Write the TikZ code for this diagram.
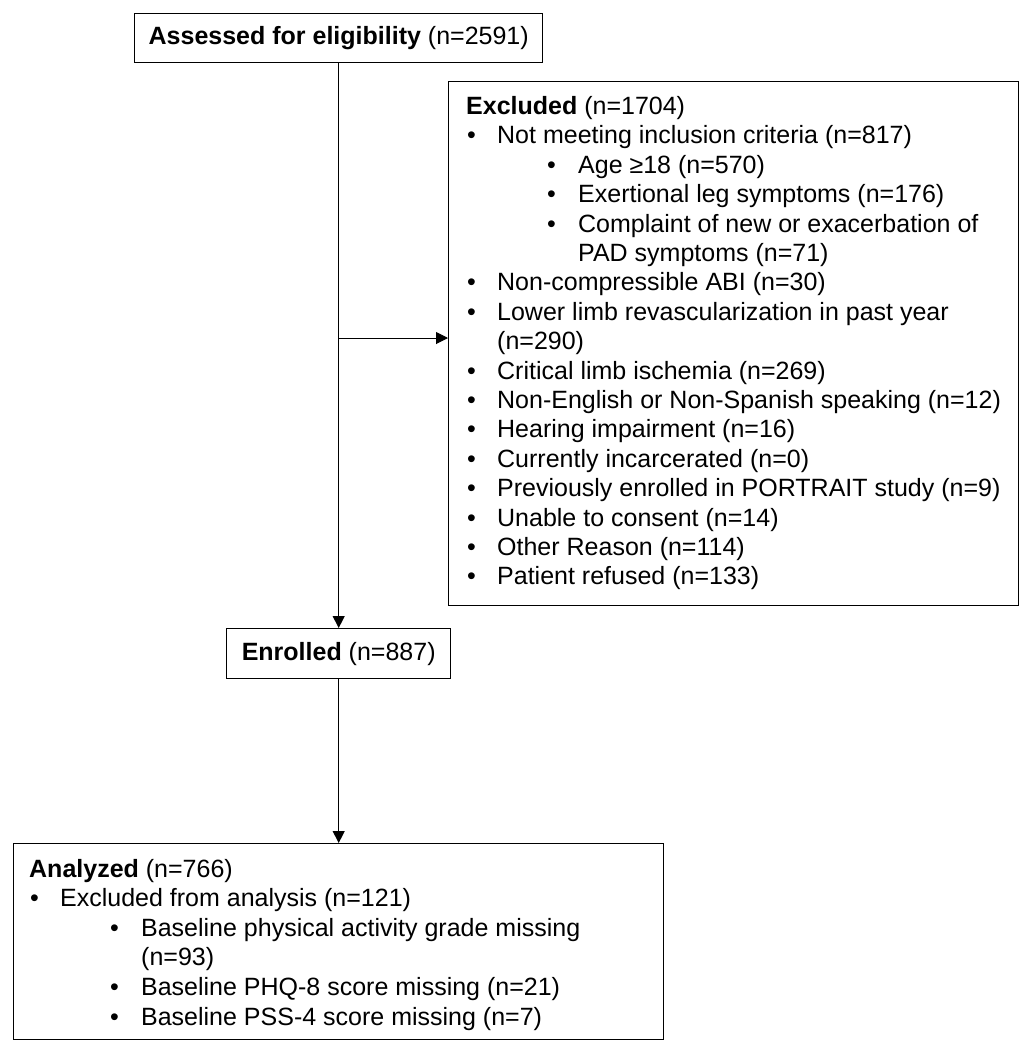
\documentclass[tikz,border=0pt]{standalone}
\usepackage{fontspec}
\setmainfont{Liberation Sans}
\usetikzlibrary{arrows.meta}
\newcommand\itA[1]{\hspace*{1pt}\makebox[30pt][l]{•}#1}
\newcommand\itB[1]{\hspace*{81pt}\makebox[31pt][l]{•}#1}
\newcommand\itC[1]{\hspace*{112pt}#1}
\newcommand\itD[1]{\hspace*{31pt}#1}
\begin{document}
\begin{tikzpicture}[x=1pt,y=-1pt,
  box/.style={draw, line width=1.4pt, inner sep=0pt, anchor=north west},
  txt/.style={anchor=base west, inner sep=0pt},
  conn/.style={line width=1pt, -{Triangle[length=12pt,width=12pt]}},
  font=\fontsize{25}{29.4}\selectfont]
\useasboundingbox[fill=white] (0,0) rectangle (1032,1050);

\node[box, minimum width=408pt, minimum height=49pt] (assess) at (134,13)
  {\textbf{Assessed for eligibility} (n=2591)};

\node[box, minimum width=570pt, minimum height=524pt] (excl) at (448,81) {};
\node[txt] (excltxt) at (466,114.5) {\parbox[t]{548pt}{%
\textbf{Excluded} (n=1704)\\
\itA{Not meeting inclusion criteria (n=817)}\\
\itB{Age ≥18 (n=570)}\\
\itB{Exertional leg symptoms (n=176)}\\
\itB{Complaint of new or exacerbation of}\\
\itC{PAD symptoms (n=71)}\\
\itA{Non-compressible ABI (n=30)}\\
\itA{Lower limb revascularization in past year}\\
\itD{(n=290)}\\
\itA{Critical limb ischemia (n=269)}\\
\itA{Non-English or Non-Spanish speaking (n=12)}\\
\itA{Hearing impairment (n=16)}\\
\itA{Currently incarcerated (n=0)}\\
\itA{Previously enrolled in PORTRAIT study (n=9)}\\
\itA{Unable to consent (n=14)}\\
\itA{Other Reason (n=114)}\\
\itA{Patient refused (n=133)}}};

\node[box, minimum width=224pt, minimum height=50pt] (enrol) at (226,628)
  {\textbf{Enrolled} (n=887)};

\node[box, minimum width=650pt, minimum height=196pt] (anal) at (13,843) {};
\node[txt] (analtxt) at (29,877) {\parbox[t]{630pt}{\fontsize{25}{29.6}\selectfont
\textbf{Analyzed} (n=766)\\
\itA{Excluded from analysis (n=121)}\\
\itB{Baseline physical activity grade missing}\\
\itC{(n=93)}\\
\itB{Baseline PHQ-8 score missing (n=21)}\\
\itB{Baseline PSS-4 score missing (n=7)}}};

\coordinate (branch) at (338,338);
\draw[conn] (assess.south) -- (enrol.north);
\draw[conn] (branch) -- (branch -| excl.west);
\draw[conn] (enrol.south) -- (enrol.south |- anal.north);
\end{tikzpicture}
\end{document}
